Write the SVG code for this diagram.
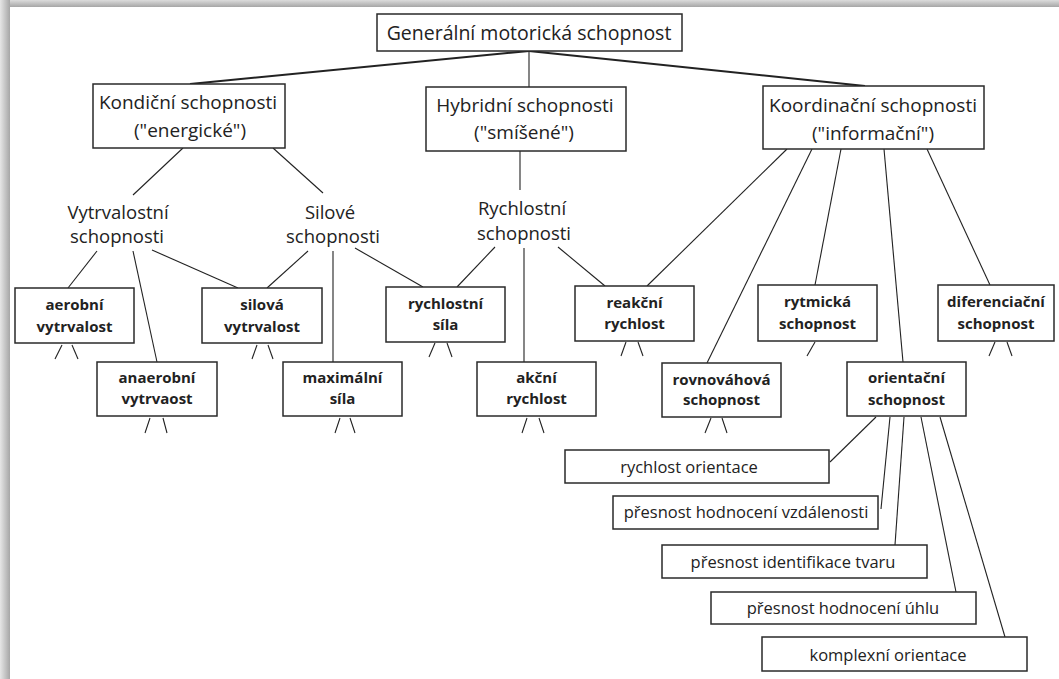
<svg xmlns="http://www.w3.org/2000/svg" width="1059" height="679" viewBox="0 0 1059 679">
<defs>
<linearGradient id="gl" x1="0" y1="0" x2="1" y2="0"><stop offset="0" stop-color="#e6e6e6"/><stop offset="1" stop-color="#a6a6a6"/></linearGradient>
<linearGradient id="gt" x1="0" y1="0" x2="0" y2="1"><stop offset="0" stop-color="#dcdcdc"/><stop offset="1" stop-color="#a6a6a6"/></linearGradient>
</defs>
<style>
.box{fill:#fff;stroke:#2a2a2a;stroke-width:1.5}
.t{font-family:"Open Sans","Noto Sans",sans-serif;fill:#222;text-anchor:middle}
.top{font-size:19.5px}
.big{font-size:19px}
.mid{font-size:18.5px}
.b{font-size:15px;font-weight:bold}
.sm{font-size:16.5px}
.c line{stroke:#222;stroke-width:1.1}
.c .k{stroke-width:2}
</style>
<rect width="1059" height="679" fill="#fff"/>
<rect x="0" y="0" width="10" height="679" fill="url(#gl)"/>
<rect x="10" y="0" width="1049" height="7" fill="url(#gt)"/>

<g class="c" id="connectors">
<line class="k" x1="529" y1="51" x2="190" y2="84"/>
<line x1="529" y1="51" x2="529" y2="87"/>
<line class="k" x1="529" y1="51" x2="865" y2="86"/>
<line x1="183" y1="148" x2="133" y2="195"/>
<line x1="273" y1="148" x2="323" y2="193"/>
<line x1="520" y1="151" x2="520" y2="190"/>
<line x1="787" y1="149" x2="647" y2="286"/>
<line x1="812" y1="149" x2="707" y2="363"/>
<line x1="841" y1="149" x2="815" y2="285"/>
<line x1="884" y1="149" x2="903" y2="362"/>
<line x1="927" y1="149" x2="990" y2="285"/>
<line x1="97" y1="251" x2="68" y2="288"/>
<line x1="133" y1="251" x2="157" y2="362"/>
<line x1="152" y1="250" x2="238" y2="288"/>
<line x1="308" y1="251" x2="267" y2="288"/>
<line x1="333" y1="251" x2="333" y2="362"/>
<line x1="355" y1="248" x2="423" y2="287"/>
<line x1="495" y1="247" x2="457" y2="287"/>
<line x1="524" y1="248" x2="524" y2="362"/>
<line x1="558" y1="247" x2="605" y2="286"/>
<line x1="55" y1="359" x2="62" y2="345"/><line x1="72" y1="345" x2="78" y2="359"/>
<line x1="145" y1="433" x2="150" y2="418"/><line x1="163" y1="418" x2="167" y2="433"/>
<line x1="252" y1="359" x2="257" y2="345"/><line x1="268" y1="345" x2="273" y2="359"/>
<line x1="335" y1="433" x2="340" y2="418"/><line x1="350" y1="418" x2="355" y2="433"/>
<line x1="429" y1="357" x2="435" y2="343"/><line x1="447" y1="343" x2="452" y2="357"/>
<line x1="522" y1="433" x2="527" y2="418"/><line x1="539" y1="418" x2="544" y2="433"/>
<line x1="621" y1="356" x2="626" y2="342"/><line x1="638" y1="342" x2="643" y2="356"/>
<line x1="705" y1="433" x2="711" y2="418"/><line x1="722" y1="418" x2="727" y2="433"/>
<line x1="807" y1="356" x2="815" y2="342"/>
<line x1="989" y1="356" x2="995" y2="342"/><line x1="1007" y1="342" x2="1012" y2="356"/>
<line x1="876" y1="417" x2="830" y2="462"/>
<line x1="890" y1="417" x2="881" y2="509"/>
<line x1="904" y1="417" x2="895" y2="545"/>
<line x1="921" y1="417" x2="956" y2="592"/>
<line x1="940" y1="417" x2="1005" y2="637"/>
</g>

<g id="n-general"><rect class="box" x="377" y="14" width="305" height="37"/><text class="t top" x="529" y="39.5">Generální motorická schopnost</text></g>
<g id="n-kondicni"><rect class="box" x="93" y="84" width="192" height="64"/><text class="t big" x="188" y="108.5">Kondiční schopnosti</text><text class="t big" x="190" y="136.5">("energické")</text></g>
<g id="n-hybridni"><rect class="box" x="426" y="87" width="200" height="64"/><text class="t big" x="525" y="111.5">Hybridní schopnosti</text><text class="t big" x="524" y="138.5">("smíšené")</text></g>
<g id="n-koordinacni"><rect class="box" x="763" y="86" width="221" height="63"/><text class="t big" x="873" y="111.5">Koordinační schopnosti</text><text class="t big" x="873" y="139.5">("informační")</text></g>

<g id="n-vytrvalostni"><text class="t mid" x="118" y="218.5">Vytrvalostní</text><text class="t mid" x="117" y="242.5">schopnosti</text></g>
<g id="n-silove"><text class="t mid" x="330" y="218.5">Silové</text><text class="t mid" x="333" y="242.5">schopnosti</text></g>
<g id="n-rychlostni"><text class="t mid" x="522" y="214.5">Rychlostní</text><text class="t mid" x="524" y="239.5">schopnosti</text></g>

<g id="n-aerobni"><rect class="box" x="15" y="288" width="119" height="55"/><text class="t b" x="74.5" y="310">aerobní</text><text class="t b" x="74.5" y="332">vytrvalost</text></g>
<g id="n-anaerobni"><rect class="box" x="97" y="362" width="120" height="54"/><text class="t b" x="157" y="383">anaerobní</text><text class="t b" x="157" y="404">vytrvaost</text></g>
<g id="n-silova"><rect class="box" x="202" y="288" width="120" height="55"/><text class="t b" x="262" y="310">silová</text><text class="t b" x="262" y="332">vytrvalost</text></g>
<g id="n-maximalni"><rect class="box" x="283" y="362" width="119" height="54"/><text class="t b" x="342.5" y="383">maximální</text><text class="t b" x="342.5" y="404">síla</text></g>
<g id="n-rychlostni-sila"><rect class="box" x="386" y="287" width="119" height="55"/><text class="t b" x="445.5" y="309">rychlostní</text><text class="t b" x="445.5" y="330">síla</text></g>
<g id="n-akcni"><rect class="box" x="477" y="362" width="119" height="54"/><text class="t b" x="536.5" y="383">akční</text><text class="t b" x="536.5" y="404">rychlost</text></g>
<g id="n-reakcni"><rect class="box" x="575" y="286" width="119" height="55"/><text class="t b" x="634.5" y="308">reakční</text><text class="t b" x="634.5" y="329">rychlost</text></g>
<g id="n-rovnovahova"><rect class="box" x="662" y="363" width="119" height="54"/><text class="t b" x="721.5" y="385">rovnováhová</text><text class="t b" x="721.5" y="405">schopnost</text></g>
<g id="n-rytmicka"><rect class="box" x="758" y="285" width="119" height="56"/><text class="t b" x="817.5" y="307">rytmická</text><text class="t b" x="817.5" y="329">schopnost</text></g>
<g id="n-orientacni"><rect class="box" x="847" y="362" width="119" height="54"/><text class="t b" x="906.5" y="383">orientační</text><text class="t b" x="906.5" y="405">schopnost</text></g>
<g id="n-diferenciacni"><rect class="box" x="938" y="285" width="116" height="56"/><text class="t b" x="996" y="307">diferenciační</text><text class="t b" x="996" y="329">schopnost</text></g>

<g id="n-rychlost-orientace"><rect class="box" x="565" y="450" width="264" height="33"/><text class="t sm" x="689" y="472.5">rychlost orientace</text></g>
<g id="n-vzdalenosti"><rect class="box" x="613" y="496" width="265" height="33"/><text class="t sm" x="746" y="518">přesnost hodnocení vzdálenosti</text></g>
<g id="n-tvaru"><rect class="box" x="662" y="545" width="265" height="33"/><text class="t sm" x="793" y="567.5">přesnost identifikace tvaru</text></g>
<g id="n-uhlu"><rect class="box" x="711" y="592" width="265" height="32"/><text class="t sm" x="843" y="613.5">přesnost hodnocení úhlu</text></g>
<g id="n-komplexni"><rect class="box" x="762" y="637" width="265" height="34"/><text class="t sm" x="888" y="660.5">komplexní orientace</text></g>
</svg>
